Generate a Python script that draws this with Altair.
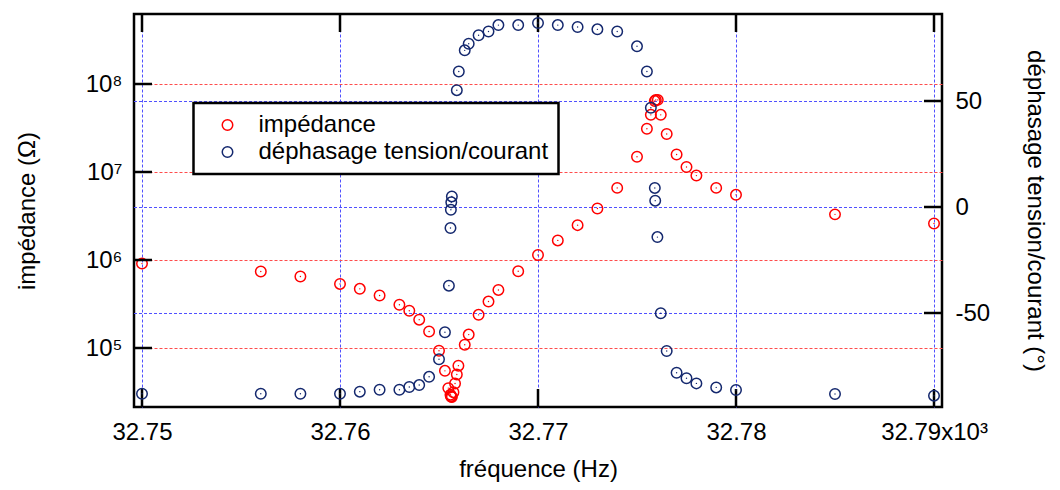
import altair as alt
import pandas as pd

# ---------------- data ----------------
series_names = ["impédance", "déphasage tension/courant"]

imp_freq = [32750.0, 32756.0, 32758.0, 32760.0, 32761.0, 32762.0, 32763.0, 32763.5,
            32764.0, 32764.5, 32765.0, 32765.3, 32765.47, 32765.58, 32765.6, 32765.62,
            32765.65, 32765.73, 32765.81, 32765.9, 32765.98, 32766.3, 32766.5, 32767.0,
            32767.5, 32768.0, 32769.0, 32770.0, 32771.0, 32772.0, 32773.0, 32774.0,
            32775.0, 32775.5, 32775.7, 32775.9, 32775.95, 32776.05, 32776.2, 32776.5,
            32777.0, 32777.5, 32778.0, 32779.0, 32780.0, 32785.0, 32790.0]
imp_ohm = [9.1e5, 7.4e5, 6.5e5, 5.35e5, 4.7e5, 3.95e5, 3.1e5, 2.65e5,
           2.1e5, 1.54e5, 9.3e4, 5.5e4, 3.5e4, 2.95e4, 2.85e4, 2.8e4,
           2.78e4, 3.15e4, 3.95e4, 5.0e4, 6.3e4, 1.09e5, 1.42e5, 2.38e5,
           3.37e5, 4.57e5, 7.45e5, 1.14e6, 1.67e6, 2.49e6, 3.85e6, 6.6e6,
           1.49e7, 3.1e7, 4.46e7, 6.4e7, 6.6e7, 6.6e7, 4.46e7, 2.7e7,
           1.58e7, 1.14e7, 9.1e6, 6.6e6, 5.5e6, 3.3e6, 2.6e6]

phase_freq = [32750.0, 32756.0, 32758.0, 32760.0, 32761.0, 32762.0, 32763.0, 32763.5,
              32764.0, 32764.5, 32765.0, 32765.3, 32765.5, 32765.58, 32765.6, 32765.62,
              32765.65, 32765.9, 32766.0, 32766.3, 32766.5, 32767.0, 32767.5, 32768.0,
              32769.0, 32770.0, 32771.0, 32772.0, 32773.0, 32774.0, 32775.0, 32775.5,
              32775.7, 32775.9, 32775.92, 32776.03, 32776.2, 32776.5, 32777.0, 32777.5,
              32778.0, 32779.0, 32780.0, 32785.0, 32790.0]
phase_deg = [-88.1, -88.1, -88.1, -88.1, -87.1, -86.2, -86.2, -84.9,
             -84.0, -80.1, -71.8, -59.1, -37.1, -9.9, -1.3, 2.2,
             5.0, 55.1, 63.9, 73.9, 77.0, 81.0, 82.8, 85.8,
             85.8, 86.8, 85.8, 84.9, 83.8, 82.8, 75.8, 63.9,
             46.8, 9.0, 3.0, -14.2, -50.1, -67.9, -78.2, -80.8,
             -83.2, -85.1, -86.3, -88.2, -89.0]

x_ticks = [32750, 32760, 32770, 32780, 32790]
left_ticks = [1e5, 1e6, 1e7, 1e8]
right_ticks = [-50, 0, 50]

# ---------------- style ----------------
RED = "#ff0000"
NAVY = "#14286e"
GRID_RED = "#ff4d4d"
GRID_BLUE = "#5050ff"
FONT = "Liberation Sans"
W, H = 808, 393
TICK = 18
FS = 24

# axis ranges (chosen so that grid lines fall on whole pixels)
X_LO = 32750 - 8 / 19.8
X_HI = X_LO + W / 19.8
LOG_TOP = 8 + 70 / 88.0
LOG_BOT = 5 - (H - 334) / 88.0
PH_TOP = 193 / 106.0 * 50
PH_BOT = -(H - 193) / 106.0 * 50

df_imp = pd.DataFrame({"f": imp_freq, "v": imp_ohm, "series": series_names[0]})
df_ph = pd.DataFrame({"f": phase_freq, "v": phase_deg, "series": series_names[1]})
df_xt = pd.DataFrame({"t": x_ticks})
df_lt = pd.DataFrame({"t": left_ticks})
df_rt = pd.DataFrame({"t": right_ticks})

x_scale = alt.Scale(domain=[X_LO, X_HI], nice=False, zero=False)
left_scale = alt.Scale(type="log", domain=[10 ** LOG_BOT, 10 ** LOG_TOP], nice=False)
right_scale = alt.Scale(domain=[PH_BOT, PH_TOP], nice=False, zero=False)
color_scale = alt.Scale(domain=series_names, range=[RED, NAVY])

common = dict(
    ticks=False, domain=False, labelOverlap=False, labelFlush=False,
    labelFontSize=FS, titleFontSize=FS, titleFontWeight="normal",
    labelColor="black", titleColor="black", gridDash=[3, 2], gridWidth=1,
    gridOpacity=1,
)
x_axis = alt.Axis(
    values=x_ticks, title="fréquence (Hz)",
    labelExpr="datum.value >= 32789 ? '32.79x10³' : format(datum.value / 1000, '.2f')",
    grid=True, gridColor=GRID_BLUE, labelBound=False, labelPadding=13, titlePadding=13,
    **common,
)
left_axis = alt.Axis(
    orient="left", values=left_ticks, title="impédance (Ω)",
    labelExpr="datum.value >= 5e7 ? '10⁸' : datum.value >= 5e6 ? '10⁷' : datum.value >= 5e5 ? '10⁶' : '10⁵'",
    grid=True, gridColor=GRID_RED, labelPadding=12, titlePadding=46,
    **common,
)
right_axis = alt.Axis(
    orient="right", values=right_ticks, title="déphasage tension/courant (°)",
    labelExpr="datum.value < 0 ? '-' + abs(datum.value) : '' + datum.value",
    grid=False, labelPadding=13, titlePadding=33,
    **common,
)
legend = alt.Legend(
    title=None, orient="none", legendX=59.5, legendY=89,
    fillColor="white", strokeColor="black", padding=10,
    labelFontSize=FS, labelColor="black", labelLimit=0, symbolOffset=12, labelOffset=19,
    rowPadding=3, symbolSize=110, symbolStrokeWidth=1.5, symbolType="circle",
)

X = alt.X("f:Q", scale=x_scale, axis=x_axis)
XT = alt.X("t:Q", scale=x_scale, axis=x_axis)

# ---------------- phase grid (drawn under everything) ----------------
phase_grid = alt.Chart(df_rt).mark_rule(
    color=GRID_BLUE, strokeWidth=1, strokeDash=[3, 2], yOffset=0.5
).encode(
    y=alt.Y("t:Q", scale=right_scale, axis=None),
    x=alt.value(0), x2=alt.value(W),
)

# ---------------- left (impedance) layer ----------------
red_pts = alt.Chart(df_imp).mark_point(
    shape="circle", filled=False, size=110, strokeWidth=1.5, opacity=1
).encode(
    x=X,
    y=alt.Y("v:Q", scale=left_scale, axis=left_axis),
    color=alt.Color("series:N", scale=color_scale, legend=legend),
)
red_dot = alt.Chart(df_imp).mark_point(
    shape="circle", filled=True, size=2, color=RED, opacity=1
).encode(x=X, y=alt.Y("v:Q", scale=left_scale, axis=left_axis))
left_tk = alt.Chart(df_lt).mark_rule(color="black", strokeWidth=2.5).encode(
    y=alt.Y("t:Q", scale=left_scale, axis=left_axis),
    x=alt.value(0), x2=alt.value(TICK),
)
bottom_tk = alt.Chart(df_xt).mark_rule(color="black", strokeWidth=2.5).encode(
    x=XT, y=alt.value(H), y2=alt.value(H - TICK)
)
top_tk = alt.Chart(df_xt).mark_rule(color="black", strokeWidth=2.5).encode(
    x=XT, y=alt.value(0), y2=alt.value(TICK)
)
left_layer = alt.layer(red_pts, red_dot, left_tk, bottom_tk, top_tk)

# ---------------- right (phase) layer ----------------
blue_pts = alt.Chart(df_ph).mark_point(
    shape="circle", filled=False, size=110, strokeWidth=1.5, opacity=1
).encode(
    x=X,
    y=alt.Y("v:Q", scale=right_scale, axis=right_axis),
    color=alt.Color("series:N", scale=color_scale, legend=legend),
)
blue_dot = alt.Chart(df_ph).mark_point(
    shape="circle", filled=True, size=2, color=NAVY, opacity=1
).encode(x=X, y=alt.Y("v:Q", scale=right_scale, axis=right_axis))
right_tk = alt.Chart(df_rt).mark_rule(color="black", strokeWidth=2.5).encode(
    y=alt.Y("t:Q", scale=right_scale, axis=right_axis),
    x=alt.value(W), x2=alt.value(W - TICK),
)
right_layer = alt.layer(blue_pts, blue_dot, right_tk)

chart = (
    alt.layer(phase_grid, left_layer, right_layer)
    .resolve_scale(y="independent")
    .properties(
        width=W, height=H,
        autosize=alt.AutoSizeParams(type="none"),
        padding={"left": 126, "top": 6, "right": 110, "bottom": 75},
        background="white",
    )
    .configure(font=FONT)
    .configure_view(stroke="black", strokeWidth=2.5)
    .configure_legend(strokeWidth=2.5)
)

chart.save("out.html", embed_options={"renderer": "svg", "actions": False})
